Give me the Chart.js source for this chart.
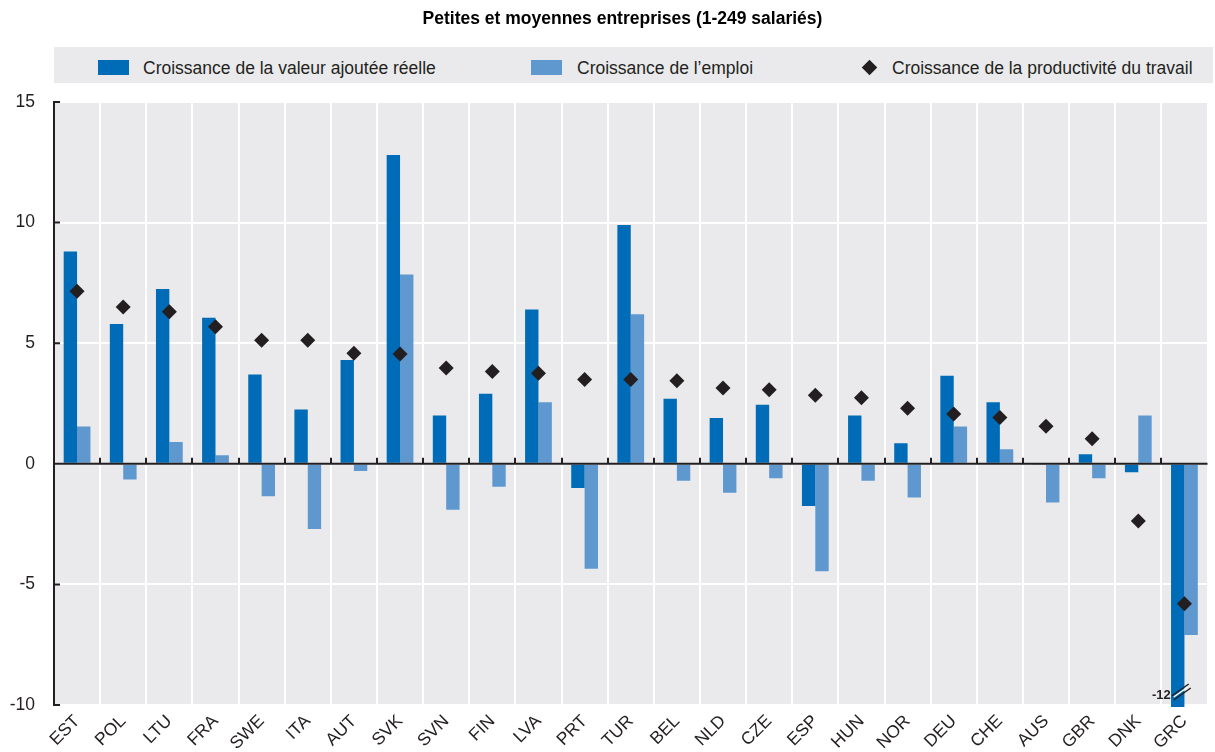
<html>
  <head>
    <title>Petites et moyennes entreprises</title>
    <script src="https://cdn.jsdelivr.net/npm/chart.js"></script>
    <style>
      body {
        margin: 0;
        padding: 0;
        background-color: #ffffff;
        font-family: "Liberation Sans", Arial, sans-serif;
      }
      .wrap {
        position: relative;
        width: 1215px;
        height: 752px;
      }
      .title {
        position: absolute;
        left: 42px;
        width: 1161px;
        top: 8px;
        text-align: center;
        font-weight: bold;
        font-size: 17.5px;
        color: #000;
      }
      .legend {
        position: absolute;
        left: 54px;
        top: 47px;
        width: 1159px;
        height: 36px;
        background-color: #eaeaec;
      }
      .legend span {
        position: absolute;
        top: 11px;
        font-size: 17.5px;
        line-height: 20px;
        color: #231f20;
        white-space: nowrap;
      }
      .legend i {
        position: absolute;
        top: 13px;
        width: 31px;
        height: 15px;
      }
      .legend b {
        position: absolute;
        top: 15px;
        width: 11px;
        height: 11px;
        background-color: #231f20;
        transform: rotate(45deg);
      }
      canvas {
        position: absolute;
        left: 0;
        top: 0;
      }
    </style>
  </head>
  <body>
    <div class="wrap">
      <canvas id="smeChart" width="1215" height="752"></canvas>
      <div class="title">Petites et moyennes entreprises (1-249 salariés)</div>
      <div class="legend">
        <i style="left:44px;background:#006bb6"></i>
        <span style="left:89px">Croissance de la valeur ajoutée réelle</span>
        <i style="left:477px;background:#5f98cf"></i>
        <span style="left:523px">Croissance de l’emploi</span>
        <b style="left:810px"></b>
        <span style="left:838px">Croissance de la productivité du travail</span>
      </div>
    </div>

    <script>
      // Data
      const countries = ['EST', 'POL', 'LTU', 'FRA', 'SWE', 'ITA', 'AUT', 'SVK', 'SVN', 'FIN', 'LVA', 'PRT', 'TUR',
                         'BEL', 'NLD', 'CZE', 'ESP', 'HUN', 'NOR', 'DEU', 'CHE', 'AUS', 'GBR', 'DNK', 'GRC'];
      const valueAdded = [8.8, 5.8, 7.25, 6.05, 3.7, 2.25, 4.3, 12.8, 2.0, 2.9, 6.4, -1.0, 9.9,
                          2.7, 1.9, 2.45, -1.75, 2.0, 0.85, 3.65, 2.55, -0.05, 0.4, -0.35, -12];
      const employment = [1.55, -0.65, 0.9, 0.35, -1.35, -2.7, -0.3, 7.85, -1.9, -0.95, 2.55, -4.35, 6.2,
                          -0.7, -1.2, -0.6, -4.45, -0.7, -1.4, 1.55, 0.6, -1.6, -0.6, 2.0, -7.1];
      const productivity = [7.15, 6.5, 6.3, 5.68, 5.12, 5.12, 4.58, 4.55, 3.97, 3.83, 3.75, 3.5, 3.5,
                            3.44, 3.14, 3.07, 2.84, 2.74, 2.3, 2.06, 1.92, 1.56, 1.04, -2.37, -5.8];
      const yTicks = [-10, -5, 0, 5, 10, 15];

      const font = '"Liberation Sans", Arial, sans-serif';

      // grey plot background
      const plotBackground = {
        id: 'plotBackground',
        beforeDraw(chart) {
          const a = chart.chartArea;
          const ctx = chart.ctx;
          ctx.save();
          ctx.fillStyle = '#eaeaec';
          ctx.fillRect(a.left, a.top, a.right - a.left, a.bottom - a.top);
          ctx.restore();
        }
      };

      // zero line, inward ticks and the -12 break mark
      const axisExtras = {
        id: 'axisExtras',
        afterDatasetsDraw(chart) {
          const ctx = chart.ctx;
          const a = chart.chartArea;
          const y = chart.scales.y;
          const y0 = y.getPixelForValue(0);
          ctx.save();
          ctx.strokeStyle = '#231f20';
          ctx.lineWidth = 2;
          ctx.beginPath();
          ctx.moveTo(a.left, y0);
          ctx.lineTo(a.right, y0);
          const step = (a.right - a.left) / countries.length;
          for (let i = 1; i < countries.length; i++) {
            const bx = Math.round(a.left + step * i);
            ctx.moveTo(bx, y0 - 6);
            ctx.lineTo(bx, y0);
          }
          yTicks.forEach(function(t) {
            const ty = y.getPixelForValue(t);
            ctx.moveTo(a.left, ty);
            ctx.lineTo(a.left + 6, ty);
          });
          ctx.stroke();

          // break on the GRC bar
          const bar = chart.getDatasetMeta(0).data[countries.length - 1];
          const by = a.bottom - 12;
          ctx.lineWidth = 1.5;
          ctx.strokeStyle = '#ffffff';
          ctx.beginPath();
          ctx.moveTo(bar.x - 4, by + 4);
          ctx.lineTo(bar.x + 10, by - 6);
          ctx.stroke();
          ctx.strokeStyle = '#231f20';
          ctx.beginPath();
          ctx.moveTo(bar.x - 6, by + 3);
          ctx.lineTo(bar.x + 11, by - 9);
          ctx.moveTo(bar.x - 4, by + 7);
          ctx.lineTo(bar.x + 13, by - 5);
          ctx.stroke();
          ctx.fillStyle = '#231f20';
          ctx.font = 'bold 13px ' + font;
          ctx.textAlign = 'right';
          ctx.textBaseline = 'middle';
          ctx.fillText(String(valueAdded[countries.length - 1]), bar.x - 7, by + 2);
          ctx.restore();
        }
      };

      const ctx = document.getElementById('smeChart').getContext('2d');
      const smeChart = new Chart(ctx, {
        data: {
          labels: countries,
          datasets: [
            {
              type: 'bar',
              label: 'Croissance de la valeur ajoutée réelle',
              data: valueAdded,
              backgroundColor: '#006bb6',
              categoryPercentage: 0.58,
              barPercentage: 1.0,
              order: 2,
              clip: { left: 0, top: 0, right: 0, bottom: 2 }
            },
            {
              type: 'bar',
              label: 'Croissance de l’emploi',
              data: employment,
              backgroundColor: '#5f98cf',
              categoryPercentage: 0.58,
              barPercentage: 1.0,
              order: 2
            },
            {
              type: 'line',
              label: 'Croissance de la productivité du travail',
              data: productivity,
              showLine: false,
              pointStyle: 'rectRot',
              pointRadius: 7.5,
              pointBackgroundColor: '#231f20',
              pointBorderWidth: 0,
              order: 1
            }
          ]
        },
        options: {
          responsive: false,
          animation: false,
          devicePixelRatio: 1,
          layout: { padding: { top: 102, right: 0, left: 0, bottom: 0 } },
          plugins: {
            legend: { display: false },
            title: { display: false },
            tooltip: { enabled: false }
          },
          scales: {
            x: {
              offset: true,
              grid: { color: '#ffffff', lineWidth: 2, offset: true, drawTicks: false },
              border: { display: false },
              ticks: {
                autoSkip: false,
                minRotation: 45,
                maxRotation: 45,
                padding: 6,
                color: '#231f20',
                font: { family: font, size: 17.5 }
              },
              afterFit(scale) {
                scale.height = 47;
                scale.paddingLeft = 0;
                scale.paddingRight = 0;
              }
            },
            y: {
              min: -10,
              max: 15,
              afterBuildTicks(scale) {
                scale.ticks = yTicks.map(function(v) { return { value: v }; });
              },
              grid: { color: '#ffffff', lineWidth: 2, drawTicks: false },
              border: { display: true, color: '#231f20', width: 2 },
              ticks: {
                padding: 19,
                color: '#231f20',
                font: { family: font, size: 17.5 }
              },
              afterFit(scale) {
                scale.width = 54;
                scale.paddingTop = 0;
                scale.paddingBottom = 0;
              }
            }
          }
        },
        plugins: [plotBackground, axisExtras]
      });
    </script>
  </body>
</html>
